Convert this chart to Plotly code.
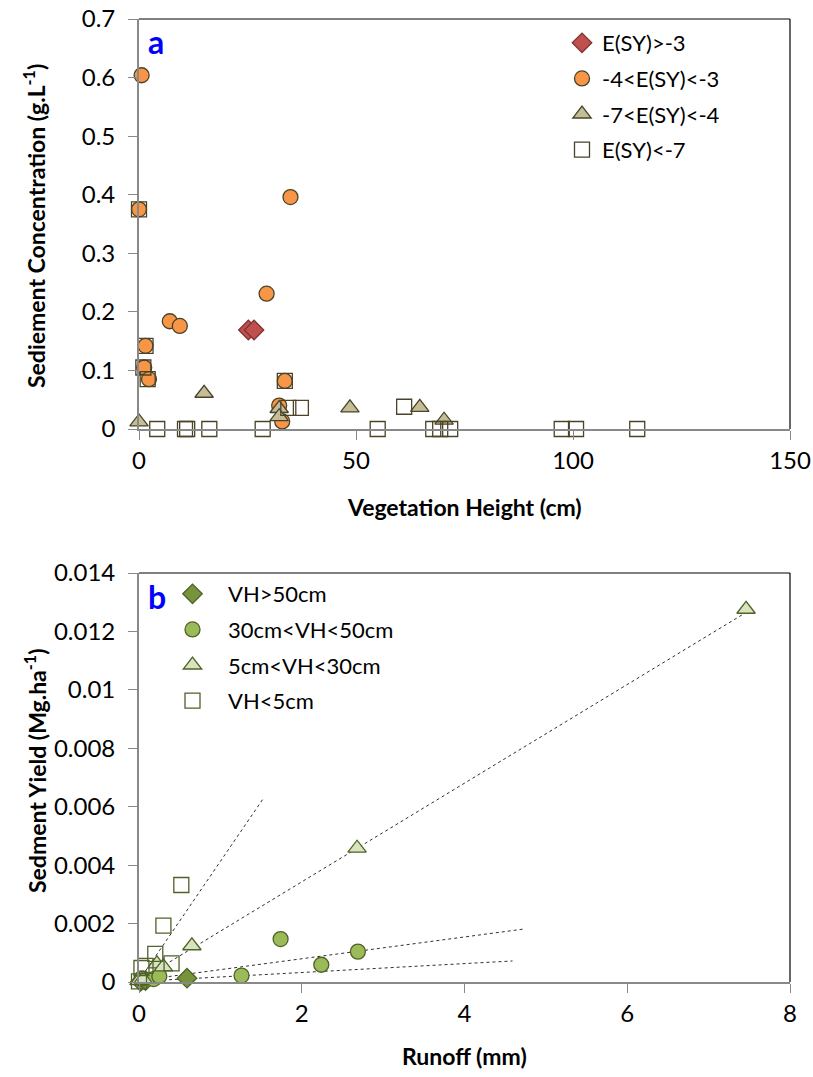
import plotly.graph_objects as go

W, H = 813, 1077

# ---------- Panel a data: Vegetation height (cm) vs sediment concentration (g/L)
a_dia_x = [25.2, 26.5]
a_dia_y = [0.169, 0.169]
a_cir_x = [0.6, 0.0, 34.9, 29.4, 7.1, 9.4, 1.5, 1.2, 2.3, 33.6, 32.3, 33.0]
a_cir_y = [0.604, 0.375, 0.396, 0.231, 0.184, 0.176, 0.142, 0.105, 0.085, 0.082, 0.040, 0.013]
a_tri_x = [0.0, 15.0, 32.3, 32.3, 48.6, 64.7, 70.3]
a_tri_y = [0.012, 0.061, 0.035, 0.021, 0.036, 0.037, 0.015]
a_sq_x = [0.0, 1.5, 1.0, 2.0, 33.6, 4.2, 10.6, 11.1, 16.2, 28.5, 34.4, 37.3,
          55.0, 61.1, 67.8, 69.4, 71.7, 97.4, 100.7, 114.8]
a_sq_y = [0.375, 0.142, 0.105, 0.085, 0.082, 0, 0, 0, 0, 0, 0.036, 0.036,
          0, 0.038, 0, 0, 0, 0, 0, 0]
a_names = ["E(SY)>-3", "-4<E(SY)<-3", "-7<E(SY)<-4", "E(SY)<-7"]

# ---------- Panel b data: Runoff (mm) vs sediment yield (Mg/ha)
b_dia_x = [0.02, 0.08, 0.59]
b_dia_y = [0.00002, 0.00005, 0.00013]
b_cir_x = [0.03, 0.18, 0.25, 1.26, 1.74, 2.24, 2.69]
b_cir_y = [0.00012, 0.0001, 0.0002, 0.00022, 0.00147, 0.00059, 0.00104]
b_tri_x = [0.0, 0.05, 0.22, 0.30, 0.65, 2.68, 7.46]
b_tri_y = [0.00005, 0.0001, 0.00062, 0.00052, 0.00124, 0.00458, 0.01276]
b_sq_x = [0.0, 0.03, 0.08, 0.20, 0.30, 0.40, 0.52]
b_sq_y = [0.00002, 0.00048, 0.00055, 0.00096, 0.00193, 0.00064, 0.00332]
b_names = ["VH>50cm", "30cm<VH<50cm", "5cm<VH<30cm", "VH<5cm"]

# trend lines (linear fits drawn in the original)
tr_sq_x, tr_sq_y = [0.0, 1.52], [0.00005, 0.00625]
tr_tri_x, tr_tri_y = [0.0, 7.46], [0.00005, 0.01265]
tr_cir_x, tr_cir_y = [0.0, 4.72], [0.00005, 0.00181]
tr_dia_x, tr_dia_y = [0.0, 4.59], [0.00002, 0.00072]

FONT = "Lato"
edge_a = "#4A4328"
edge_b = "#4F6228"

fig = go.Figure()

def add(x, y, name, symbol, fill, edge, size, xa, ya, legend, group, width=1.3):
    fig.add_trace(go.Scatter(
        x=x, y=y, mode="markers", name=name, xaxis=xa, yaxis=ya,
        legend=legend, legendgroup=group, cliponaxis=False,
        marker=dict(symbol=symbol, size=size, color=fill,
                    line=dict(color=edge, width=width))))

add(a_dia_x, a_dia_y, a_names[0], "diamond", "#C0504D", "#7F3331", 15, "x", "y", "legend", "a1")
add(a_cir_x, a_cir_y, a_names[1], "circle", "#F79646", edge_a, 15, "x", "y", "legend", "a2")
add(a_tri_x, a_tri_y, a_names[2], "triangle-up", "#C4BD97", edge_a, 16, "x", "y", "legend", "a3")
add(a_sq_x, a_sq_y, a_names[3], "square-open", edge_a, edge_a, 15, "x", "y", "legend", "a4", 1.3)

for tx, ty in [(tr_sq_x, tr_sq_y), (tr_tri_x, tr_tri_y), (tr_cir_x, tr_cir_y), (tr_dia_x, tr_dia_y)]:
    fig.add_trace(go.Scatter(x=tx, y=ty, mode="lines", xaxis="x2", yaxis="y2",
                             showlegend=False, hoverinfo="skip",
                             line=dict(color="#303030", width=1, dash="dot")))

add(b_dia_x, b_dia_y, b_names[0], "diamond", "#77933C", edge_b, 15, "x2", "y2", "legend2", "b1")
add(b_cir_x, b_cir_y, b_names[1], "circle", "#9BBB59", edge_b, 15, "x2", "y2", "legend2", "b2")
add(b_tri_x, b_tri_y, b_names[2], "triangle-up", "#D7E4BD", edge_b, 16, "x2", "y2", "legend2", "b3")
add(b_sq_x, b_sq_y, b_names[3], "square-open", edge_b, edge_b, 15, "x2", "y2", "legend2", "b4", 1.3)

xl, xr = 139 / W, 790 / W
ya_dom = [1 - 429 / H, 1 - 19 / H]
yb_dom = [1 - 982 / H, 1 - 573 / H]

axis_common = dict(showline=True, linecolor="#898989", linewidth=1.8, ticks="outside",
                   tickcolor="#898989", tickwidth=1.3, ticklen=9, showgrid=False,
                   zeroline=False, automargin=False,
                   tickfont=dict(family=FONT, size=24, color="#000"))

fig.update_layout(
    width=W, height=H, margin=dict(l=0, r=0, t=0, b=0, autoexpand=False),
    plot_bgcolor="white", paper_bgcolor="white",
    font=dict(family=FONT, color="#000"),
    xaxis=dict(domain=[xl, xr], range=[0, 150], dtick=50, anchor="y",
               ticklabelstandoff=0, **axis_common),
    yaxis=dict(domain=ya_dom, range=[0, 0.7], dtick=0.1, anchor="x",
               ticklabelstandoff=8, **axis_common),
    xaxis2=dict(domain=[xl, xr], range=[0, 8], dtick=2, anchor="y2",
                ticklabelstandoff=0, **axis_common),
    yaxis2=dict(domain=yb_dom, range=[0, 0.014], dtick=0.002, anchor="x2",
                ticklabelstandoff=8, **axis_common),
    legend=dict(x=562 / W, y=1 - 22 / H, xanchor="left", yanchor="top",
                bgcolor="rgba(0,0,0,0)", tracegroupgap=4,
                font=dict(family=FONT, size=22, color="#000")),
    legend2=dict(x=157 / W, y=1 - 573 / H, xanchor="left", yanchor="top",
                 bgcolor="rgba(0,0,0,0)", tracegroupgap=4, itemwidth=61,
                 font=dict(family=FONT, size=22, color="#000")),
    showlegend=True,
)

# top and right borders of the plot areas
for y0, y1 in [(ya_dom[0], ya_dom[1]), (yb_dom[0], yb_dom[1])]:
    fig.add_shape(type="line", xref="paper", yref="paper", x0=xl, x1=xr, y0=y1, y1=y1,
                  line=dict(color="#000", width=1.2))
    fig.add_shape(type="line", xref="paper", yref="paper", x0=xr, x1=xr, y0=y0, y1=y1,
                  line=dict(color="#000", width=1.2))

ann = [
    dict(text="<b>a</b>", x=146 / W, y=1 - 42 / H, xanchor="left", yanchor="middle",
         font=dict(family=FONT, size=32, color="#0000FF")),
    dict(text="<b>b</b>", x=146 / W, y=1 - 596 / H, xanchor="left", yanchor="middle",
         font=dict(family=FONT, size=32, color="#0000FF")),
    dict(text="<b>Vegetation Height (cm)</b>", x=464 / W, y=1 - 507 / H,
         xanchor="center", yanchor="middle", font=dict(family=FONT, size=23)),
    dict(text="<b>Runoff (mm)</b>", x=464 / W, y=1 - 1056 / H,
         xanchor="center", yanchor="middle", font=dict(family=FONT, size=23)),
    dict(text="<b>Sediement Concentration (g.L<sup>-1</sup>)</b>", x=35 / W, y=1 - 226 / H,
         xanchor="center", yanchor="middle", textangle=-90, font=dict(family=FONT, size=23)),
    dict(text="<b>Sedment Yield (Mg.ha<sup>-1</sup>)</b>", x=35 / W, y=1 - 771 / H,
         xanchor="center", yanchor="middle", textangle=-90, font=dict(family=FONT, size=23)),
]
for a in ann:
    a.update(xref="paper", yref="paper", showarrow=False)
fig.update_layout(annotations=ann)

fig.write_html("out.html", config={"displayModeBar": False},
               post_script="document.body.style.margin='0';document.body.style.overflow='hidden';")
